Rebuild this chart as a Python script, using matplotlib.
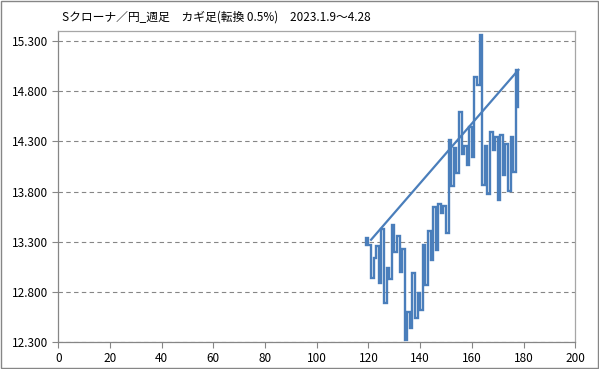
import matplotlib
matplotlib.use("Agg")
import matplotlib.pyplot as plt
from matplotlib.patches import Rectangle

plt.rcParams['font.family'] = ['Noto Sans CJK JP', 'DejaVu Sans']

title = "Sクローナ／円_週足　カギ足(転換 0.5%)　2023.1.9～4.28"

# カギ足: 始点と各縦線の x 位置・到達値
kagi_start = 13.27
kagi_x = list(range(119, 179))
kagi_y = [13.34, 13.27, 12.94, 13.135, 13.26, 12.89, 13.43, 12.69, 13.04, 12.93,
          13.47, 13.20, 13.36, 13.00, 13.23, 12.32, 12.60, 12.44, 12.99, 12.54,
          12.79, 12.62, 13.27, 12.87, 13.41, 13.12, 13.65, 13.22, 13.68, 13.59,
          13.66, 13.39, 14.31, 13.85, 14.23, 13.98, 14.59, 14.17, 14.25, 14.06,
          14.44, 14.14, 14.94, 14.86, 15.36, 13.86, 14.25, 13.78, 14.39, 14.21,
          14.34, 13.72, 14.36, 13.96, 14.27, 13.81, 14.34, 13.99, 15.01, 14.64]

# 始点と終点を結ぶ線
trend_x = [121, 178]
trend_y = [13.32, 15.01]

x_ticks = list(range(0, 201, 20))
y_ticks = [12.3, 12.8, 13.3, 13.8, 14.3, 14.8, 15.3]

blue = '#4a7ebb'
gray = '#868686'

fig = plt.figure(figsize=(5.99, 3.69), dpi=100)
ax = fig.add_axes([0.0973, 0.0724, 0.8631, 0.8444])

xs = [kagi_x[0]] + kagi_x
ys = [kagi_start] + kagi_y
ax.step(xs, ys, where='post', color=blue, lw=1.7, solid_joinstyle='miter')
ax.plot(trend_x, trend_y, color=blue, lw=1.6)

ax.set_xlim(0, 200)
ax.set_ylim(12.3, 15.4)
ax.set_xticks(x_ticks)
ax.set_yticks(y_ticks)
ax.set_yticklabels([f"{v:.3f}" for v in y_ticks])

ax.yaxis.grid(True, color=gray, lw=0.8, linestyle=(0, (4, 3)))
ax.set_axisbelow(True)

for side in ['left', 'bottom']:
    ax.spines[side].set_color(gray)
    ax.spines[side].set_linewidth(0.9)
for side in ['top', 'right']:
    ax.spines[side].set_color('#a6a6a6')
    ax.spines[side].set_linewidth(0.9)

ax.tick_params(axis='both', direction='out', length=4, width=0.8, color=gray,
               labelsize=8.5, labelcolor='black', pad=3)

fig.text(62 / 599, 1 - 17 / 369, title, ha='left', va='center', fontsize=8.5)

fig.add_artist(Rectangle((0.001, 0.002), 0.997, 0.995, transform=fig.transFigure,
                         fill=False, edgecolor=gray, lw=1.0))

fig.savefig("out.png", dpi=100)
